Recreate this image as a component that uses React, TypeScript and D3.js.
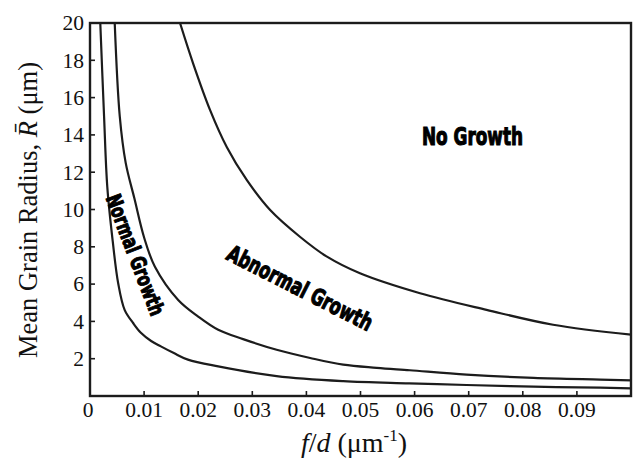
import React from "react";
import * as d3 from "d3";

const W = 633;
const H = 461;

const xTicks = [0, 0.01, 0.02, 0.03, 0.04, 0.05, 0.06, 0.07, 0.08, 0.09];
const xTickLabels = ["0", "0.01", "0.02", "0.03", "0.04", "0.05", "0.06", "0.07", "0.08", "0.09"];
const yTicks = [2, 4, 6, 8, 10, 12, 14, 16, 18, 20];

// Normal growth limit (inner curve)
const innerX = [0.0019, 0.0026, 0.0032, 0.0042, 0.0052, 0.0064, 0.008, 0.0094, 0.0113, 0.0131, 0.0155, 0.0181, 0.0237, 0.0345, 0.0468, 0.059, 0.0696, 0.082, 0.0943, 0.1];
const innerR = [20, 15, 11.2, 8.3, 6.06, 4.62, 3.9, 3.39, 2.95, 2.66, 2.3, 1.95, 1.59, 1.07, 0.8, 0.68, 0.59, 0.5, 0.45, 0.41];

// Abnormal growth lower limit (middle curve)
const middleX = [0.00457, 0.0055, 0.0066, 0.0082, 0.01, 0.012, 0.0163, 0.02, 0.0237, 0.0283, 0.0345, 0.0407, 0.0468, 0.053, 0.0591, 0.0696, 0.082, 0.0943, 0.1];
const middleR = [20, 15, 12.5, 10.6, 8.5, 6.93, 5.15, 4.26, 3.55, 3.05, 2.48, 2.04, 1.68, 1.51, 1.38, 1.15, 0.97, 0.88, 0.84];

// Abnormal growth upper limit (outer curve)
const outerX = [0.01664, 0.0191, 0.0222, 0.0253, 0.029, 0.0333, 0.0388, 0.0438, 0.0499, 0.061, 0.0733, 0.0856, 0.1];
const outerR = [20, 17.8, 15.33, 13.34, 11.57, 9.97, 8.54, 7.47, 6.58, 5.51, 4.62, 3.82, 3.29];

const regionLabels = ["Normal Growth", "Abnormal Growth", "No Growth"];

export default function App() {
  const x = d3.scaleLinear().domain([0, 0.1]).range([90, 631]);
  const y = d3.scaleLinear().domain([0, 20]).range([396, 23]);

  const line = d3
    .line<[number, number]>()
    .x((d) => x(d[0]))
    .y((d) => y(d[1]))
    .curve(d3.curveCatmullRom.alpha(0.5));

  const series = [
    innerX.map((v, i) => [v, innerR[i]] as [number, number]),
    middleX.map((v, i) => [v, middleR[i]] as [number, number]),
    outerX.map((v, i) => [v, outerR[i]] as [number, number]),
  ];

  const serif = "'Liberation Serif', 'Times New Roman', serif";
  const heavy = "'DejaVu Sans Condensed', 'DejaVu Sans', sans-serif";
  const ink = "#1c1c1c";

  return (
    <svg width={W} height={H} style={{ position: "absolute", left: 0, top: 0, background: "#fff" }}>
      <defs>
        <clipPath id="plot">
          <rect x={x(0)} y={y(20)} width={x(0.1) - x(0)} height={y(0) - y(20)} />
        </clipPath>
      </defs>
      <rect x={0} y={0} width={W} height={H} fill="#fff" />

      <g clipPath="url(#plot)">
        {series.map((s, i) => (
          <path key={i} d={line(s) || ""} fill="none" stroke={ink} strokeWidth={2.2} />
        ))}
      </g>

      {/* ticks */}
      {xTicks.slice(1).map((t) => (
        <line key={"xt" + t} x1={x(t)} x2={x(t)} y1={y(0)} y2={y(0) - 5} stroke={ink} strokeWidth={1.6} />
      ))}
      {yTicks.slice(0, -1).map((t) => (
        <line key={"yt" + t} x1={x(0)} x2={x(0) + 5} y1={y(t)} y2={y(t)} stroke={ink} strokeWidth={1.6} />
      ))}

      {/* frame */}
      <rect x={x(0)} y={y(20)} width={x(0.1) - x(0)} height={y(0) - y(20)} fill="none" stroke={ink} strokeWidth={2.4} />

      {/* tick labels */}
      {xTicks.map((t, i) => (
        <text key={"xl" + t} x={x(t) + (i === 0 ? -2 : 0)} y={417} textAnchor="middle" fontFamily={serif} fontSize={21.5} fill="#111">
          {xTickLabels[i]}
        </text>
      ))}
      {yTicks.map((t) => (
        <text key={"yl" + t} x={84} y={y(t)} dy="0.34em" textAnchor="end" fontFamily={serif} fontSize={21.5} fill="#111">
          {t}
        </text>
      ))}

      {/* axis titles */}
      <text x={354} y={452} textAnchor="middle" fontFamily={serif} fontSize={28} fill="#111">
        <tspan fontStyle="italic">f</tspan>
        <tspan>/</tspan>
        <tspan fontStyle="italic">d</tspan>
        <tspan> (μm</tspan>
        <tspan fontSize={17} dy={-11}>-1</tspan>
        <tspan dy={11}>)</tspan>
      </text>
      <text transform="translate(36.5,210) rotate(-90)" textAnchor="middle" fontFamily={serif} fontSize={26.5} fill="#111">
        <tspan>Mean Grain Radius, </tspan>
        <tspan fontStyle="italic">R̄</tspan>
        <tspan> (μm)</tspan>
      </text>

      {/* region labels */}
      <text
        transform="translate(135,255) rotate(69)"
        textAnchor="middle"
        dominantBaseline="central"
        fontFamily={heavy}
        fontWeight="bold"
        fontSize={21}
        textLength={128}
        lengthAdjust="spacingAndGlyphs"
        fill="#000"
        stroke="#000"
        strokeWidth={1.1}
      >
        {regionLabels[0]}
      </text>
      <text
        transform="translate(300,288) rotate(27)"
        textAnchor="middle"
        dominantBaseline="central"
        fontFamily={heavy}
        fontWeight="bold"
        fontSize={23}
        textLength={160}
        lengthAdjust="spacingAndGlyphs"
        fill="#000"
        stroke="#000"
        strokeWidth={1.1}
      >
        {regionLabels[1]}
      </text>
      <text
        x={472.5}
        y={136}
        textAnchor="middle"
        dominantBaseline="central"
        fontFamily={heavy}
        fontWeight="bold"
        fontSize={25}
        textLength={101}
        lengthAdjust="spacingAndGlyphs"
        fill="#000"
        stroke="#000"
        strokeWidth={1.1}
      >
        {regionLabels[2]}
      </text>
    </svg>
  );
}
